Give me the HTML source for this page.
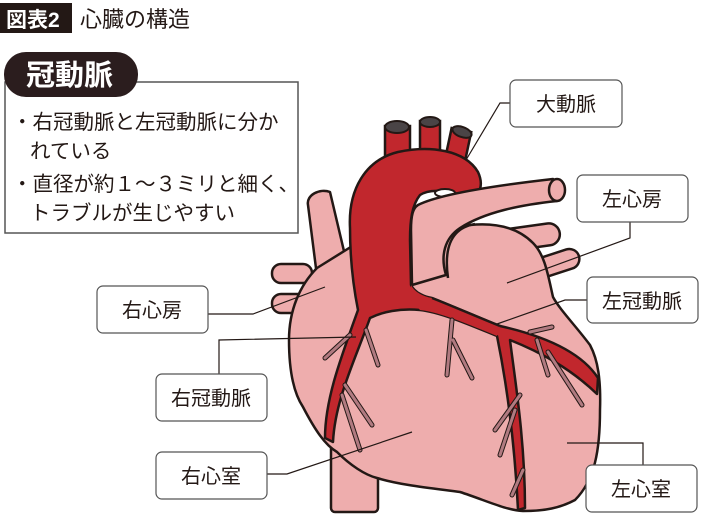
<!DOCTYPE html>
<html><head><meta charset="utf-8"><style>
body{margin:0;width:710px;height:525px;background:#fff;overflow:hidden;font-family:"Liberation Sans","Noto Sans CJK JP",sans-serif;}
svg{position:absolute;left:0;top:0}
.t{font-family:"Liberation Sans","Noto Sans CJK JP",sans-serif}
</style></head><body>
<svg width="710" height="525" viewBox="0 0 710 525">
<g stroke="#231815" stroke-width="2.5" stroke-linejoin="round" fill="#eeadad">
<rect x="272" y="264" width="40" height="19" rx="9"/>
<rect x="272" y="294" width="40" height="19" rx="9"/>
<rect x="500" y="226" width="60" height="22" rx="11" transform="rotate(-8 530 237)"/>
<rect x="535" y="253" width="45" height="20" rx="10" transform="rotate(-18 557 263)"/>
<rect x="331" y="430" width="47" height="82" rx="4"/>
<path d="M308,205 C306,195 320,188 330,192 L352,285 L320,300 Z"/>
<path d="M317,268 C300,285 289,310 289,340 C289,375 295,395 303,407 C315,430 325,445 337,452 C350,465 365,475 377,478 C400,485 430,488 460,492 C485,500 505,510 523,511 C545,511 560,508 575,500 C595,480 600,450 600,410 C601,380 598,360 590,345 C575,325 560,310 553,297 C548,275 545,255 533,243 C520,230 500,222 470,225 L370,235 Z"/>
</g>
<g stroke="#231815" stroke-width="2.5" fill="#c1272d">
<rect x="385" y="126" width="25" height="35"/>
<rect x="420" y="121" width="20" height="35"/>
<rect x="451" y="130" width="20" height="35" transform="rotate(12 461 132)"/>
</g>
<g stroke="#231815" stroke-width="2" fill="#4a4446">
<ellipse cx="397" cy="127" rx="12" ry="6"/>
<ellipse cx="430" cy="122" rx="10" ry="5"/>
<ellipse cx="462" cy="132" rx="10" ry="5" transform="rotate(20 462 132)"/>
</g>
<path d="M350,228 C348,190 365,160 398,152 C430,145 465,150 478,172 C484,185 480,195 470,200 C455,190 430,188 420,195 C412,205 410,220 410,240 L411,285 C415,293 425,297 432,298 C450,305 480,318 500,326 C540,335 580,350 598,378 L597,394 C570,368 540,352 510,340 C515,380 525,440 525,508 L518,510 C515,450 508,390 497,336 C470,325 440,312 420,310 C400,308 382,312 370,318 C355,360 335,400 333,442 L325,438 C325,400 340,360 358,310 C352,280 350,250 350,228 Z" fill="#c1272d" stroke="#231815" stroke-width="2.5" stroke-linejoin="round"/>
<ellipse cx="445" cy="193" rx="10" ry="4" fill="#fff" stroke="#231815" stroke-width="2"/>
<!-- pulmonary artery on top -->
<g stroke="#231815" stroke-width="2.5" stroke-linejoin="round" fill="#eeadad">
<path d="M418,205 C440,194 500,185 553,179 L557,201 C520,205 485,212 460,228 C445,238 440,255 446,275 L412,285 L411,230 C411,215 413,208 418,205 Z"/>
<ellipse cx="557" cy="190" rx="8" ry="11"/>
</g>
<!-- re-draw left coronary start over PA region -->
<path d="M411,285 C415,293 425,297 432,298 C450,305 480,318 500,326 L497,336 C470,325 440,312 420,310 L411,300 Z" fill="#c1272d" stroke="none"/>
<path d="M432,298 C450,305 480,318 500,326" fill="none" stroke="#231815" stroke-width="2.5"/>
<path d="M448,278 C444,250 450,228 475,224" fill="none" stroke="#231815" stroke-width="2.5"/>
<g fill="none" stroke="#231815" stroke-width="5" stroke-linecap="round">
<path d="M350,335 L325,358 M366,330 L378,365 M345,385 L372,425 M342,395 L360,450 M452,320 L447,375 M453,340 L472,378 M520,395 L495,430 M515,410 L500,455 M537,340 L548,375 M548,352 L582,405 M530,332 L552,327 M523,470 L512,495"/>
</g>
<g fill="none" stroke="#b07a80" stroke-width="3" stroke-linecap="round">
<path d="M350,335 L325,358 M366,330 L378,365 M345,385 L372,425 M342,395 L360,450 M452,320 L447,375 M453,340 L472,378 M520,395 L495,430 M515,410 L500,455 M537,340 L548,375 M548,352 L582,405 M530,332 L552,327 M523,470 L512,495"/>
</g>
<g fill="none" stroke="#231815" stroke-width="1.2">
<path d="M510,103 L500,103 L466,160"/>
<path d="M630,222 L630,238 L507,283"/>
<path d="M587,300 L565,300 L497,324"/>
<path d="M643,465 L643,443 L567,443"/>
<path d="M208,314 L253,314 L325,287"/>
<path d="M219,374 L219,340 L356,337"/>
<path d="M267,474 L287,474 L412,432"/>
</g>
<g fill="#fff" stroke="#555" stroke-width="1.2">
<rect x="510" y="80" width="112" height="47" rx="6"/>
<rect x="577" y="175" width="111" height="47" rx="6"/>
<rect x="587" y="277" width="111" height="46" rx="6"/>
<rect x="586" y="465" width="111" height="47" rx="6"/>
<rect x="97" y="286" width="111" height="47" rx="6"/>
<rect x="156" y="374" width="111" height="47" rx="6"/>
<rect x="156" y="452" width="111" height="47" rx="6"/>
</g>
<g class="t" font-size="20" fill="#231815" text-anchor="middle">
<text x="566" y="111">大動脈</text>
<text x="632" y="206">左心房</text>
<text x="642" y="308">左冠動脈</text>
<text x="641" y="496">左心室</text>
<text x="152" y="317">右心房</text>
<text x="211" y="405">右冠動脈</text>
<text x="211" y="483">右心室</text>
</g>
<rect x="0" y="3" width="72" height="30" fill="#231815"/>
<text class="t" x="6" y="27" font-size="21" font-weight="bold" fill="#fff">図表2</text>
<text class="t" x="80" y="27" font-size="22" fill="#231815">心臓の構造</text>
<rect x="5" y="82" width="293" height="151" fill="#fff" stroke="#555" stroke-width="1.5"/>
<rect x="4" y="52" width="134" height="45" rx="22" fill="#2b1d1e"/>
<text class="t" x="26" y="85" font-size="29" font-weight="bold" fill="#fff">冠動脈</text>
<g class="t" font-size="20.5" fill="#231815">
<text x="12" y="129">・右冠動脈と左冠動脈に分か</text>
<text x="30" y="158">れている</text>
<text x="12" y="191">・直径が約１～３ミリと細く、</text>
<text x="30" y="220">トラブルが生じやすい</text>
</g>
</svg>
</body></html>
